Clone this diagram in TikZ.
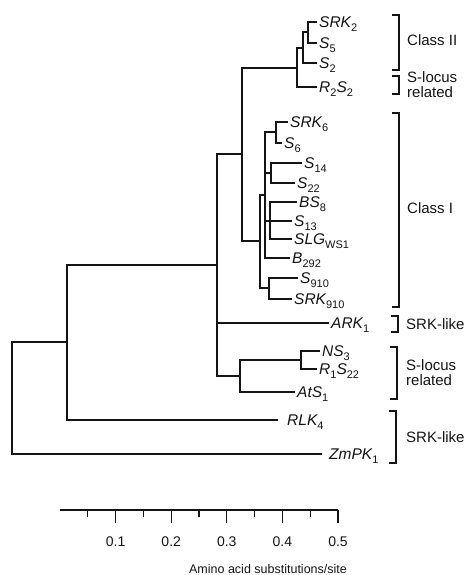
\documentclass[tikz,border=0pt]{standalone}
\usepackage{fontspec}
\setmainfont{Liberation Sans}
\usetikzlibrary{calc}
\definecolor{InkBlack}{HTML}{141414}
\newcommand{\lo}[1]{\raisebox{-3.8pt}{\fontsize{11}{11}\selectfont\upshape #1}}
\tikzset{
  branch/.style={draw=InkBlack, line width=1.1pt},
  taxon/.style={anchor=west, inner xsep=2pt, inner ysep=0pt, text height=11pt, text depth=0pt, text=InkBlack, font=\fontsize{15.5}{15.5}\selectfont\itshape},
  grouplabel/.style={anchor=west, inner sep=0pt, align=left, text=InkBlack, font=\fontsize{15}{15}\selectfont},
  bracketline/.style={draw=InkBlack, line width=1.2pt},
  scaleline/.style={draw=InkBlack, line width=1.1pt},
  ticklabel/.style={inner sep=0pt, text=InkBlack, font=\fontsize{14}{14}\selectfont},
  axislabel/.style={inner sep=0pt, text=InkBlack, font=\fontsize{12.5}{12.5}\selectfont}
}

\begin{document}
\begin{tikzpicture}[x=1pt, y=-1pt]
\useasboundingbox (0,0) rectangle (470,575);

\coordinate (root) at (12,398);
\coordinate (k67) at (67,342);
\coordinate (k217) at (217,265);
\coordinate (k242) at (242,154);
\coordinate (k297) at (297,68);
\coordinate (k303) at (303,48);
\coordinate (k308) at (308,32);
\coordinate (k260) at (260,241);
\coordinate (k265) at (265,195);
\coordinate (k276) at (276,132);
\coordinate (k271) at (271,173);
\coordinate (k270) at (270,221);
\coordinate (k269) at (269,288);
\coordinate (k240) at (240,376);
\coordinate (k301) at (301,360);

\node[taxon] (srk2) at (317,22) {SRK\lo{2}};
\node[taxon] (s5) at (317,43) {S\lo{5}};
\node[taxon] (s2) at (317,63) {S\lo{2}};
\node[taxon] (r2s2) at (317,87) {R\lo{2}S\lo{2}};
\node[taxon] (srk6) at (288,122) {SRK\lo{6}};
\node[taxon] (s6) at (282,143) {S\lo{6}};
\node[taxon] (s14) at (302,163) {S\lo{14}};
\node[taxon] (s22) at (295,183) {S\lo{22}};
\node[taxon] (bs8) at (297,202) {BS\lo{8}};
\node[taxon] (s13) at (292,221) {S\lo{13}};
\node[taxon] (slg) at (292,239) {SLG\lo{WS1}};
\node[taxon] (b292) at (290,258) {B\lo{292}};
\node[taxon] (s910) at (298,278) {S\lo{910}};
\node[taxon] (srk910) at (292,299) {SRK\lo{910}};
\node[taxon] (ark1) at (329,323) {ARK\lo{1}};
\node[taxon] (ns3) at (320,351) {NS\lo{3}};
\node[taxon] (r1s22) at (317,369) {R\lo{1}S\lo{22}};
\node[taxon] (ats1) at (295,392) {AtS\lo{1}};
\node[taxon, inner xsep=9pt] (rlk4) at (278,420) {RLK\lo{4}};
\node[taxon, inner xsep=7pt] (zmpk1) at (322,454) {ZmPK\lo{1}};

\draw[branch] (root) |- (k67);
\draw[branch] (root) |- (zmpk1.west);
\draw[branch] (k67) |- (k217);
\draw[branch] (k67) |- (rlk4.west);
\draw[branch] (k217) |- (k242);
\draw[branch] (k217) -- (ark1.west -| k217) -- (ark1.west);
\draw[branch] (k217) |- (k240);
\draw[branch] (k242) |- (k297);
\draw[branch] (k242) |- (k260);
\draw[branch] (k297) |- (k303);
\draw[branch] (k297) |- (r2s2.west);
\draw[branch] (k303) |- (k308);
\draw[branch] (k303) |- (s2.west);
\draw[branch] (k308) |- (srk2.west);
\draw[branch] (k308) |- (s5.west);
\draw[branch] (k260) |- (k265);
\draw[branch] (k260) |- (k269);
\draw[branch] (k265) |- (k276);
\draw[branch] (k265) |- (k271);
\draw[branch] (k265) |- (k270);
\draw[branch] (k265) |- (b292.west);
\draw[branch] (k276) |- (srk6.west);
\draw[branch] (k276) |- (s6.west);
\draw[branch] (k271) |- (s14.west);
\draw[branch] (k271) |- (s22.west);
\draw[branch] (k270) |- (bs8.west);
\draw[branch] (k270) -- (s13.west);
\draw[branch] (k270) |- (slg.west);
\draw[branch] (k269) |- (s910.west);
\draw[branch] (k269) |- (srk910.west);
\draw[branch] (k240) |- (k301);
\draw[branch] (k240) |- (ats1.west);
\draw[branch] (k301) |- (ns3.west);
\draw[branch] (k301) |- (r1s22.west);

\draw[bracketline] (392,15) -- (399,15) -- (399,70) -- (392,70);
\draw[bracketline] (392,76) -- (399,76) -- (399,94) -- (392,94);
\draw[bracketline] (392,113) -- (399,113) -- (399,307) -- (392,307);
\draw[bracketline] (391,316) -- (398,316) -- (398,332) -- (391,332);
\draw[bracketline] (390,347) -- (397,347) -- (397,399) -- (390,399);
\draw[bracketline] (389,411) -- (396,411) -- (396,463) -- (389,463);

\node[grouplabel] (classII) at (407,40) {Class II};
\node[grouplabel] (srelA) at (407,85) {S-locus\\related};
\node[grouplabel] (classI) at (407,208) {Class I};
\node[grouplabel] (srklikeA) at (406,324) {SRK-like};
\node[grouplabel] (srelB) at (406,373) {S-locus\\related};
\node[grouplabel] (srklikeB) at (406,437) {SRK-like};

\draw[scaleline] (60,510) -- (338,510);
\foreach \k in {1,3,...,9}
  \draw[scaleline] ({60+27.8*\k},510) -- ++(0,7);
\foreach \v [count=\i] in {0.1,0.2,0.3,0.4,0.5} {
  \draw[scaleline] ({60+55.6*\i},510) -- ++(0,13);
  \node[ticklabel] (tick\i) at ({60+55.6*\i},542) {\v};
}
\node[axislabel] (axis) at (268,569) {Amino acid substitutions/site};
\end{tikzpicture}
\end{document}
